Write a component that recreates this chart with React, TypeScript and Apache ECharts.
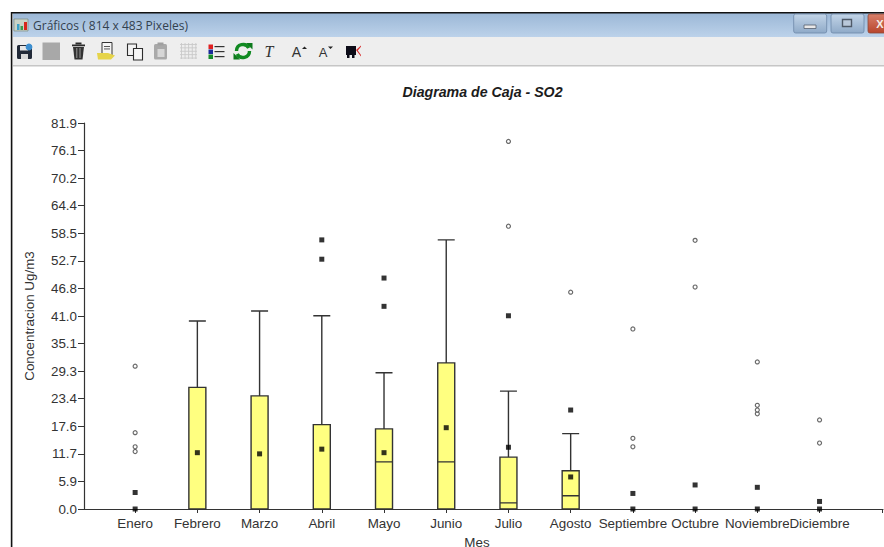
import React, { useEffect, useRef } from "react";
import * as echarts from "echarts";

const meses = ["Enero", "Febrero", "Marzo", "Abril", "Mayo", "Junio", "Julio", "Agosto", "Septiembre", "Octubre", "Noviembre", "Diciembre"];
const yTickLabels = ["0.0", "5.9", "11.7", "17.6", "23.4", "29.3", "35.1", "41.0", "46.8", "52.7", "58.5", "64.4", "70.2", "76.1", "81.9"];
const yStep = 5.85;
const yMax = 81.9;

// [mes, minimo, Q1, mediana, Q3, maximo]
const cajas = [
  [2, 0, 0, 0, 25.8, 39.9],
  [3, 0, 0, 0, 24, 42],
  [4, 0, 0, 0, 17.9, 41],
  [5, 0, 0, 10, 17, 28.9],
  [6, 0, 0, 10, 31, 57.1],
  [7, 0, 0, 1.3, 11, 25],
  [8, 0, 0, 2.8, 8.1, 16],
];
// medias y valores extremos (cuadros negros)
const cuadros = [
  [1, 3.5], [1, 0],
  [2, 11.95], [3, 11.7], [4, 12.7], [5, 11.95],
  [4, 53], [4, 57.1], [5, 43], [5, 49],
  [6, 17.25], [7, 13.1], [7, 41], [8, 6.8], [8, 21],
  [9, 3.3], [9, 0], [10, 5.1], [10, 0], [11, 4.6], [11, 0], [12, 1.6], [12, 0],
];
// valores atipicos (circulos)
const circulos = [
  [1, 12.2], [1, 13.2], [1, 16.2], [1, 30.3],
  [7, 60], [7, 78], [8, 46],
  [9, 13.2], [9, 15], [9, 38.2],
  [10, 47.1], [10, 57],
  [11, 20.2], [11, 21], [11, 22], [11, 31.2],
  [12, 14], [12, 18.9],
];

const textColor = "#333333";
const font = "'Liberation Sans', Arial, sans-serif";
const r = (x: number, y: number, width: number, height: number, fill: any, extra: any = {}) => ({
  type: "rect", shape: { x, y, width, height, ...(extra.shape || {}) }, style: { fill, ...(extra.style || {}) }, silent: true, z: 20,
});
const poly = (points: number[][], fill: string) => ({ type: "polygon", shape: { points }, style: { fill }, silent: true, z: 20 });
const grad = (a: string, b: string) => new echarts.graphic.LinearGradient(0, 0, 0, 1, [{ offset: 0, color: a }, { offset: 1, color: b }]);

function chrome(): any[] {
  const els: any[] = [
    r(13, 13, 871, 24, grad("#9bb7d6", "#bcd2ea")),
    r(13, 37, 871, 28, "#eeeeee"),
    r(13, 65, 871, 1.6, "#c6c6c6"),
    r(11, 12, 873, 1.4, "#111111"),
    r(10.8, 12, 1.6, 535, "#111111"),
    // icono de la ventana
    r(14, 19, 14, 12, "#c9d3c8", { style: { stroke: "#7d8b80", lineWidth: 0.7 } }),
    r(17, 24, 2.5, 6, "#3aa0c8"),
    r(20.5, 26, 2.5, 4, "#3c9a4c"),
    r(24, 22, 3, 8, "#d8261c"),
    { type: "text", silent: true, z: 21, style: { x: 33, y: 25, text: "Gráficos ( 814 x 483 Pixeles)", fill: "#33414f", font: "12px 'Open Sans', 'Noto Sans', sans-serif", textVerticalAlign: "middle" } },
    // botones de la ventana
    r(793.7, 14, 33, 19, grad("#c3d5e8", "#8faac8"), { style: { stroke: "#6d88a8", lineWidth: 0.8 }, shape: { r: 2 } }),
    r(804, 25, 12, 3.5, "#e8e8e8", { style: { stroke: "#56606e", lineWidth: 0.8 } }),
    r(831, 14, 33, 19, grad("#c3d5e8", "#8faac8"), { style: { stroke: "#6d88a8", lineWidth: 0.8 }, shape: { r: 2 } }),
    r(842.5, 19.5, 9, 7, "#b9c8da", { style: { stroke: "#4f5a68", lineWidth: 1.4 } }),
    r(868, 14, 18, 19, grad("#d9806a", "#b8452c"), { style: { stroke: "#8c4a3a", lineWidth: 0.8 }, shape: { r: 2 } }),
    { type: "text", silent: true, z: 21, style: { x: 880, y: 23.5, text: "X", fill: "#f4efe9", font: "bold 11px 'Liberation Sans', sans-serif", textAlign: "center", textVerticalAlign: "middle" } },
    // guardar
    r(17, 45, 15, 14, "#222a38", { shape: { r: 1.5 } }),
    r(20, 46, 8, 4.5, "#e6e6e6"),
    r(21, 54, 7, 5, "#d8d8d8"),
    { type: "circle", shape: { cx: 29, cy: 47, r: 3.4 }, style: { fill: "#3d8fd0" }, silent: true, z: 21 },
    // cuadro gris
    r(42.5, 42.5, 17.5, 17.5, "#a8a8a8"),
    // papelera
    r(72, 44.5, 13, 1.8, "#2c2c2c"),
    r(75.5, 42.5, 6, 2, "#2c2c2c"),
    poly([[73, 47], [84, 47], [82.5, 59.5], [74.5, 59.5]], "#333333"),
    r(76.3, 48, 1, 10, "#999999"),
    r(79.5, 48, 1, 10, "#999999"),
    // carpeta abierta
    r(102, 42.5, 10, 13, "#f4f4f4", { style: { stroke: "#333", lineWidth: 1 } }),
    r(104, 46, 6, 0.9, "#444"),
    r(104, 48.5, 6, 0.9, "#444"),
    poly([[97, 53], [108, 53], [115, 55.5], [111, 59.5], [98, 59.5]], "#e6d44a"),
    // copiar
    r(127.5, 44, 9, 11.5, "#f2f2f2", { style: { stroke: "#2d2d2d", lineWidth: 1.1 } }),
    r(133.5, 48.5, 9, 11.5, "#f6f6f6", { style: { stroke: "#2d2d2d", lineWidth: 1.1 } }),
    // pegar (inactivo)
    r(154, 44, 13, 15.5, "#a9a9a9", { shape: { r: 1.5 } }),
    r(157.5, 49, 7, 8, "#d6d6d6"),
    r(157.5, 42.5, 6, 3, "#a0a0a0"),
  ];
  // rejilla
  for (let i = 0; i < 5; i++) {
    els.push(r(181 + i * 3.6, 43, 0.9, 16, "#c9c9c9"));
    els.push(r(180, 44 + i * 3.4, 17, 0.9, "#c9c9c9"));
  }
  els.push(
    // leyenda
    r(208.5, 44.5, 4.5, 4.5, "#e02020"),
    r(208.5, 49.5, 4.5, 4.5, "#1a2a9a"),
    r(208.5, 54.5, 4.5, 4.5, "#158a2a"),
    r(214.5, 46, 10, 1.2, "#333"),
    r(214.5, 51, 10, 1.2, "#333"),
    r(214.5, 56, 10, 1.2, "#333"),
    // refrescar
    { type: "arc", shape: { cx: 243, cy: 51, r: 6.5, startAngle: Math.PI, endAngle: Math.PI * 1.85 }, style: { stroke: "#118a22", lineWidth: 3.4, fill: "none" }, silent: true, z: 20 },
    { type: "arc", shape: { cx: 243, cy: 51, r: 6.5, startAngle: 0, endAngle: Math.PI * 0.85 }, style: { stroke: "#118a22", lineWidth: 3.4, fill: "none" }, silent: true, z: 20 },
    poly([[246, 43], [252.5, 43], [252.5, 49.5]], "#0d7a1c"),
    poly([[240, 59.5], [233.5, 59.5], [233.5, 53]], "#0d7a1c"),
    { type: "text", silent: true, z: 21, style: { x: 269, y: 51, text: "T", fill: "#333", font: "italic 16px 'Liberation Serif', serif", textAlign: "center", textVerticalAlign: "middle" } },
    { type: "text", silent: true, z: 21, style: { x: 296.5, y: 52, text: "A", fill: "#333", font: "14px 'Liberation Sans', sans-serif", textAlign: "center", textVerticalAlign: "middle" } },
    poly([[302, 49], [307, 49], [304.5, 46.5]], "#222"),
    { type: "text", silent: true, z: 21, style: { x: 323, y: 52, text: "A", fill: "#333", font: "13px 'Liberation Sans', sans-serif", textAlign: "center", textVerticalAlign: "middle" } },
    poly([[328, 46.5], [333, 46.5], [330.5, 49]], "#222"),
    // icono final
    r(346, 46, 10, 9, "#0c0c18"),
    r(347, 55, 2.5, 3, "#0c0c18"),
    r(352, 55, 2.5, 3, "#0c0c18"),
    poly([[356, 50], [361, 45.5], [361, 46.8], [357.8, 50.4], [361, 55], [361, 56.5]], "#d83030"),
  );
  return els;
}

export default function App() {
  const ref = useRef<HTMLDivElement>(null);
  useEffect(() => {
    const chart = echarts.init(ref.current!, undefined, { renderer: "svg" });
    chart.setOption({
      animation: false,
      backgroundColor: "#ffffff",
      textStyle: { fontFamily: font },
      title: {
        text: "Diagrama de Caja - SO2",
        left: 477.5,
        top: 80,
        textAlign: "center",
        textStyle: { fontFamily: font, fontSize: 14.2, fontWeight: "bold", fontStyle: "italic", color: "#1c1c1c" },
      },
      grid: { left: 84, right: 1, top: 123, bottom: 38, containLabel: false, outerBoundsMode: "none" },
      xAxis: {
        type: "value",
        min: 0.178,
        max: 13.02,
        splitLine: { show: false },
        axisLine: { onZero: false, lineStyle: { color: "#333", width: 1.2 } },
        axisTick: { show: true, length: 4, lineStyle: { color: "#333" }, customValues: [1, 2, 3, 4, 5, 6, 7, 8, 9, 10, 11, 12, 13] },
        axisLabel: {
          color: textColor,
          fontFamily: font,
          fontSize: 13.4,
          margin: 8,
          hideOverlap: false,
          backgroundColor: "#ffffff",
          customValues: [1, 2, 3, 4, 5, 6, 7, 8, 9, 10, 11, 12, 13],
          formatter: (v: number) => meses[Math.round(v) - 1] ?? "",
        },
        name: "Mes",
        nameLocation: "middle",
        nameGap: 27,
        nameTextStyle: { color: textColor, fontFamily: font, fontSize: 13.4, padding: [0, 13, 0, 0] },
      },
      yAxis: {
        type: "value",
        min: 0,
        max: yMax,
        interval: yStep,
        splitLine: { show: false },
        axisLine: { show: true, lineStyle: { color: "#333", width: 1.2 } },
        axisTick: { show: true, length: 6, lineStyle: { color: "#333" } },
        axisLabel: {
          color: textColor,
          fontFamily: font,
          fontSize: 13.4,
          margin: 7,
          showMinLabel: true,
          showMaxLabel: true,
          formatter: (v: number) => yTickLabels[Math.round(v / yStep)],
        },
        name: "Concentracion Ug/m3",
        nameLocation: "middle",
        nameGap: 48,
        nameTextStyle: { color: textColor, fontFamily: font, fontSize: 13.4 },
      },
      series: [
        {
          type: "boxplot",
          data: cajas,
          encode: { x: 0, y: [1, 2, 3, 4, 5] },
          boxWidth: [17, 17],
          itemStyle: { color: "#ffff80", borderColor: "#333333", borderWidth: 1.4 },
          z: 3,
        },
        {
          type: "scatter",
          data: circulos,
          symbol: "circle",
          symbolSize: 4,
          itemStyle: { color: "#ffffff", borderColor: "#444444", borderWidth: 1.2 },
          z: 4,
        },
        {
          type: "scatter",
          data: cuadros,
          symbol: "rect",
          symbolSize: 5,
          itemStyle: { color: "#000000" },
          z: 5,
        },
      ],
      graphic: { elements: chrome() },
    });
    return () => chart.dispose();
  }, []);
  return <div ref={ref} style={{ position: "fixed", left: 0, top: 0, width: 884, height: 547 }} />;
}
